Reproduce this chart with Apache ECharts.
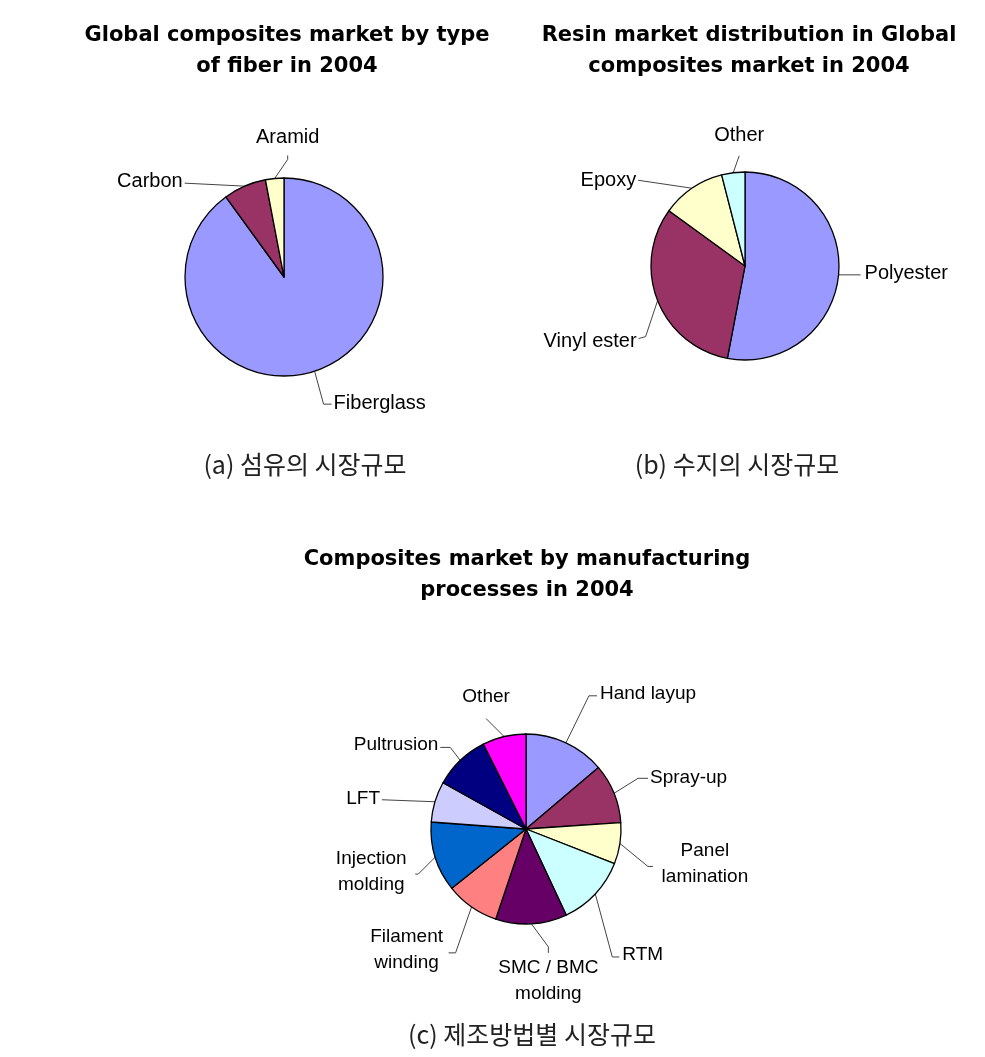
<!DOCTYPE html>
<html><head><meta charset="utf-8">
<script src="https://cdn.jsdelivr.net/npm/echarts@6/dist/echarts.min.js"></script>
<style>html,body{margin:0;padding:0;background:#fff}#chart{width:985px;height:1057px}</style>
</head><body><div id="chart"></div>
<script>
// ---- data ----
const fiberCategories = ['Fiberglass', 'Carbon', 'Aramid'];
const fiberValues = [90, 7, 3];
const resinCategories = ['Polyester', 'Vinyl ester', 'Epoxy', 'Other'];
const resinValues = [53, 32, 11, 4];
const processCategories = ['Hand layup', 'Spray-up', 'Panel\nlamination', 'RTM', 'SMC / BMC\nmolding',
  'Filament\nwinding', 'Injection\nmolding', 'LFT', 'Pultrusion', 'Other'];
const processValues = [13.8, 10.1, 7.0, 12.1, 12.1, 9.1, 11.9, 6.9, 9.5, 7.4];
const chartTitles = ['Global composites market by type\nof fiber in 2004',
  'Resin market distribution in Global\ncomposites market in 2004',
  'Composites market by manufacturing\nprocesses in 2004'];
const captions = ['(a) 섬유의 시장규모', '(b) 수지의 시장규모', '(c) 제조방법별 시장규모'];

// ---- styles ----
const palette = ['#9999FF', '#993366', '#FFFFCC', '#CCFFFF', '#660066', '#FF8080', '#0066CC', '#CCCCFF', '#000080', '#FF00FF'];
// leader-line / label placement relative to the slice edge point computed by ECharts
const fiberLabelSpec = [
  {e: [9, 33], h: [8, 0], t: [2, -1], a: 'left', v: 'middle'},
  {e: [0, 0], h: [-60, -3], t: [-2, -2], a: 'right', v: 'middle'},
  {e: [13, -19], h: [0, -4], t: [0, -18], a: 'center', v: 'middle'}
];
const resinLabelSpec = [
  {e: [0, 0], h: [22, 0], t: [4, -1], a: 'left', v: 'middle'},
  {e: [-12, 36], h: [-7, 2], t: [-2, 3], a: 'right', v: 'middle'},
  {e: [0, 0], h: [-54, -8], t: [-2, 0], a: 'right', v: 'middle'},
  {e: [6, -17], h: [0, 0], t: [0, -20], a: 'center', v: 'middle'}
];
const processLabelSpec = [
  {e: [23, -47], h: [8, 0], t: [3, -2], a: 'left', v: 'middle'},
  {e: [24, -15], h: [10, 0], t: [2, -1], a: 'left', v: 'middle'},
  {e: [28, 23], h: [5, 0], t: [52, -3], a: 'center', v: 'middle'},
  {e: [17, 63], h: [7, 0], t: [3, -2], a: 'left', v: 'middle'},
  {e: [17, 23], h: [0, 6], t: [0, 2], a: 'center', v: 'top'},
  {e: [-16, 46], h: [-7, 0], t: [-42, -3], a: 'center', v: 'middle'},
  {e: [-17, 17], h: [-3, 0], t: [-44, -2], a: 'center', v: 'middle'},
  {e: [0, 0], h: [-53, -2], t: [-2, -1], a: 'right', v: 'middle'},
  {e: [-10, -13], h: [-10, 0], t: [-2, -3], a: 'right', v: 'middle'},
  {e: [-18, -18], h: [0, 0], t: [0, -22], a: 'center', v: 'middle'}
];

function makeLayout(spec) {
  return function (p) {
    const s = spec[p.dataIndex];
    const pts = p.labelLinePoints;
    if (!s || !pts || !pts.length) return {};
    const st = pts[0];
    const el = [st[0] + s.e[0], st[1] + s.e[1]];
    const en = [el[0] + s.h[0], el[1] + s.h[1]];
    return {x: en[0] + s.t[0], y: en[1] + s.t[1], align: s.a, verticalAlign: s.v,
      labelLinePoints: [st, el, en]};
  };
}

function pieSeries(cats, vals, center, radius, spec, fontSize) {
  return {
    type: 'pie', center: center, radius: radius, startAngle: 90, clockwise: true,
    avoidLabelOverlap: false, silent: true, animation: false,
    data: cats.map((n, i) => ({name: n, value: vals[i], itemStyle: {color: palette[i]}})),
    itemStyle: {borderColor: '#000', borderWidth: 1.3},
    label: {show: true, position: 'outside', formatter: '{b}', color: '#000',
      fontFamily: '"Liberation Sans", Arial, sans-serif', fontSize: fontSize, lineHeight: 26},
    labelLine: {show: true, length: 10, length2: 10, smooth: false, lineStyle: {color: '#444', width: 1}},
    labelLayout: makeLayout(spec),
    emphasis: {disabled: true}
  };
}

const titleStyle = {fontFamily: '"DejaVu Sans", sans-serif', fontWeight: 'bold', fontSize: 21, lineHeight: 31, color: '#000'};
const capStyle = {fontFamily: '"Noto Sans CJK KR", sans-serif', fontWeight: 'normal', fontSize: 25, lineHeight: 28, color: '#222'};

const chart = echarts.init(document.getElementById('chart'), null, {renderer: 'canvas'});
chart.setOption({
  backgroundColor: '#fff',
  animation: false,
  title: [
    {text: chartTitles[0], left: 287, top: 20, textAlign: 'center', padding: 0, textStyle: titleStyle},
    {text: chartTitles[1], left: 749, top: 20, textAlign: 'center', padding: 0, textStyle: titleStyle},
    {text: chartTitles[2], left: 527, top: 544, textAlign: 'center', padding: 0, textStyle: titleStyle},
    {text: captions[0], left: 305, top: 450, textAlign: 'center', padding: 0, textStyle: capStyle},
    {text: captions[1], left: 737, top: 450, textAlign: 'center', padding: 0, textStyle: capStyle},
    {text: captions[2], left: 532, top: 1020, textAlign: 'center', padding: 0, textStyle: capStyle}
  ],
  series: [
    pieSeries(fiberCategories, fiberValues, [284, 277], 99, fiberLabelSpec, 20),
    pieSeries(resinCategories, resinValues, [745, 266], 94, resinLabelSpec, 20),
    pieSeries(processCategories, processValues, [526, 829], 95, processLabelSpec, 19)
  ]
});
</script>
</body></html>
